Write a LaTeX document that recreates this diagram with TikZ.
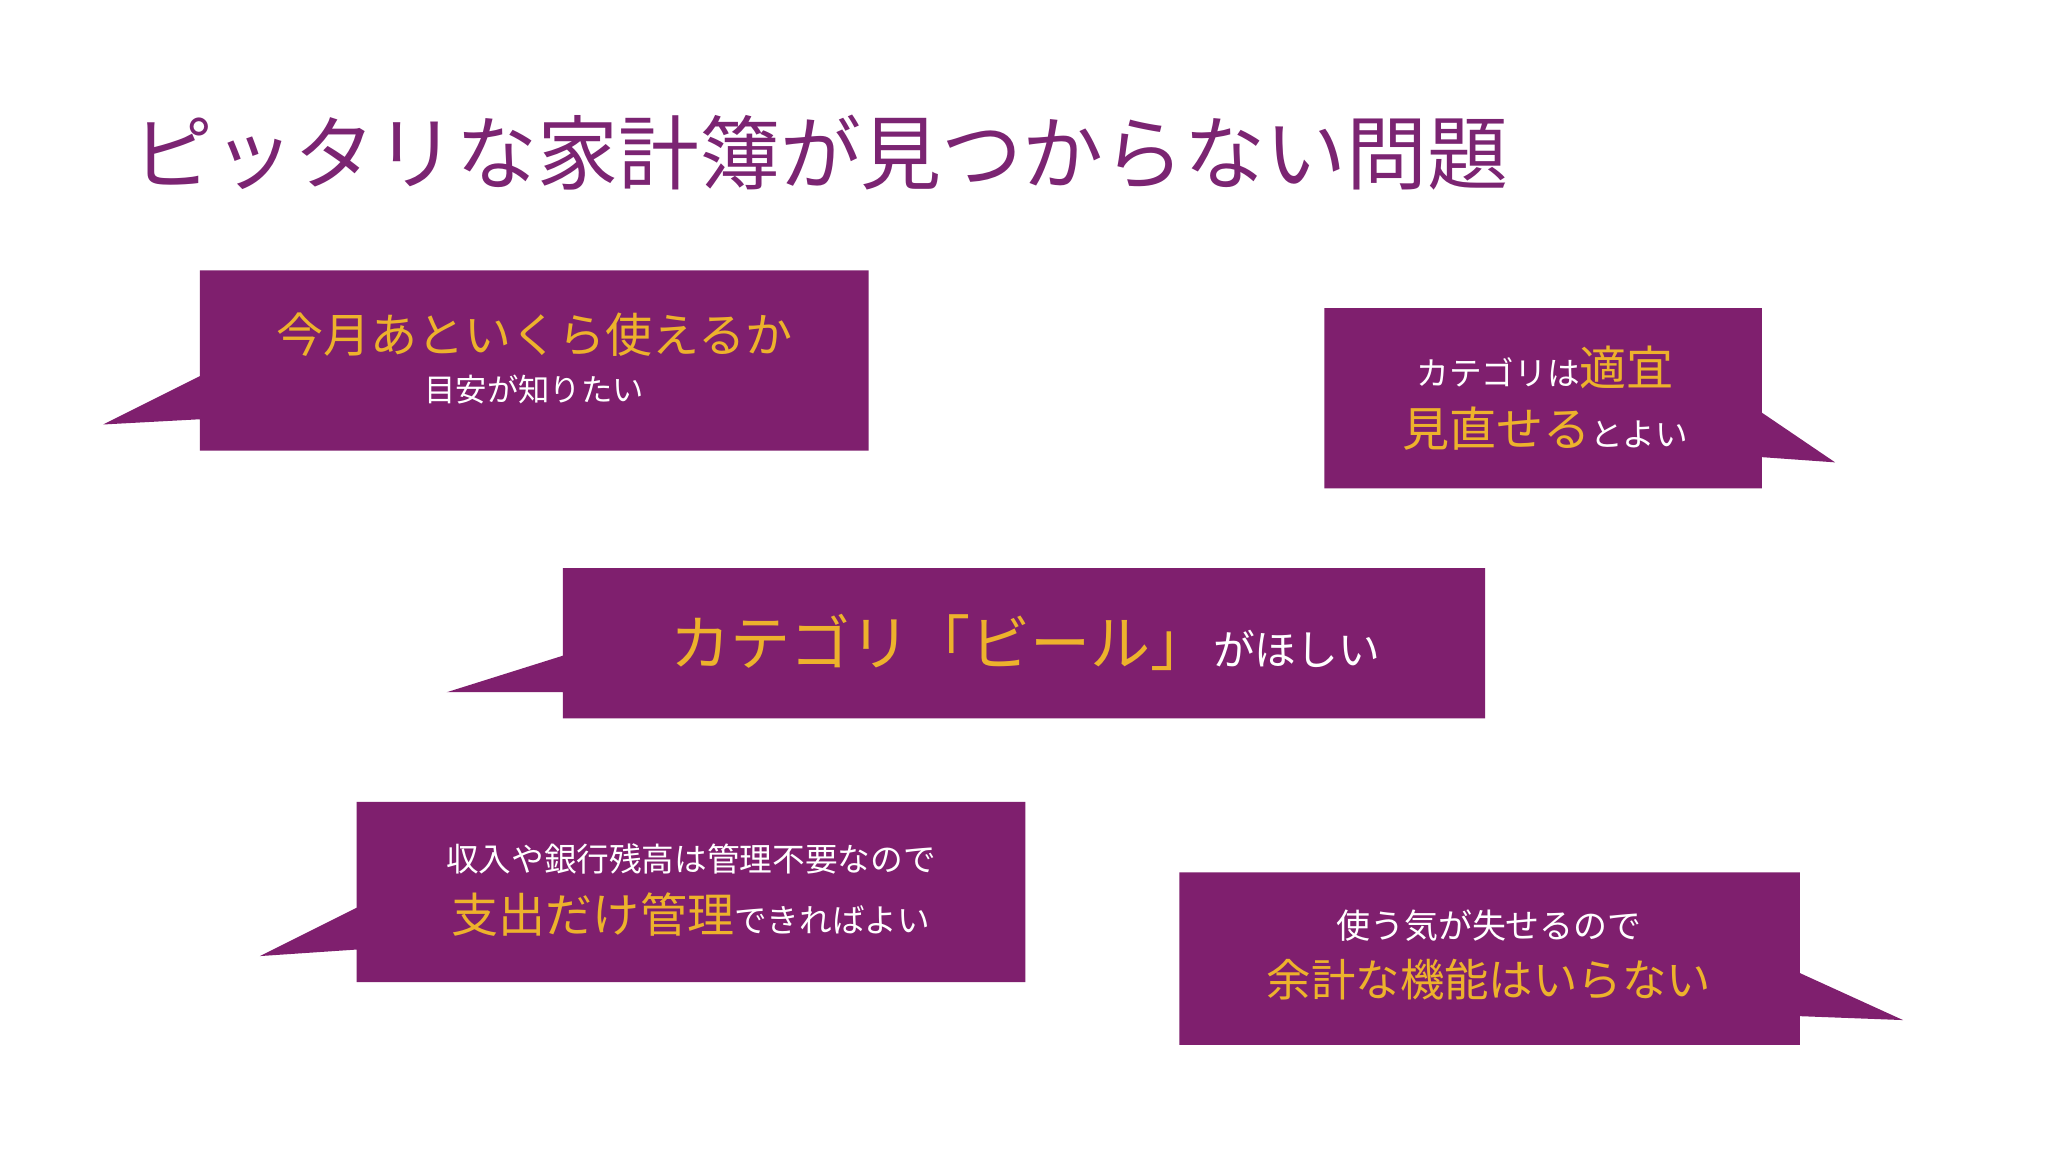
\documentclass[tikz,border=0pt]{standalone}
\usepackage{fontspec}
\setmainfont{Noto Sans CJK JP}
\definecolor{bub}{HTML}{7F1F6E}
\definecolor{gold}{HTML}{EDB22C}
\definecolor{ttl}{HTML}{7B2472}
\tikzset{bubble/.style={fill=bub,draw=none},
 txt/.style={inner sep=0pt,text=white,anchor=center}}
\newcommand{\G}[2]{{\fontsize{#1}{#1}\selectfont\color{gold}#2}}
\newcommand{\W}[2]{{\fontsize{#1}{#1}\selectfont\color{white}#2}}
\begin{document}
\begin{tikzpicture}[x=1pt,y=-1pt]
\useasboundingbox[fill=white] (0,0) rectangle (1568,882);
\node[anchor=west,inner sep=0pt,text=ttl,font=\fontsize{62}{62}\selectfont] (title) at (101,117) {ピッタリな家計簿が見つからない問題};
% bubble 1
\fill[bubble] (153,207) -- (665,207) -- (665,345) -- (153,345) -- (153,321) -- (79,325) -- (153,288) -- cycle;
\node[txt] (b1a) at (409,256) {\G{36}{今月あといくら使えるか}};
\node[txt] (b1b) at (409,298) {\W{24}{目安が知りたい}};
% bubble 2
\fill[bubble] (1014,236) -- (1349,236) -- (1349,316) -- (1405,354) -- (1349,350) -- (1349,374) -- (1014,374) -- cycle;
\node[txt] (b2a) at (1183,281) {\W{25}{カテゴリは}\G{36}{適宜}};
\node[txt] (b2b) at (1183,328) {\G{36}{見直せる}\W{25}{とよい}};
% bubble 3
\fill[bubble] (431,435) -- (1137,435) -- (1137,550) -- (431,550) -- (431,530) -- (342,530) -- (431,502) -- cycle;
\node[txt] (b3) at (785,492) {\G{46}{カテゴリ「ビール」}\,\W{32}{がほしい}};
% bubble 4
\fill[bubble] (273,614) -- (785,614) -- (785,752) -- (273,752) -- (273,727) -- (199,732) -- (273,695) -- cycle;
\node[txt] (b4a) at (529,658) {\W{25}{収入や銀行残高は管理不要なので}};
\node[txt] (b4b) at (529,700) {\G{36}{支出だけ管理}\W{25}{できればよい}};
% bubble 5
\fill[bubble] (903,668) -- (1378,668) -- (1378,745) -- (1457,781) -- (1378,778) -- (1378,800) -- (903,800) -- cycle;
\node[txt] (b5a) at (1140,709) {\W{26}{使う気が失せるので}};
\node[txt] (b5b) at (1140,750) {\G{34}{余計な機能はいらない}};
\end{tikzpicture}
\end{document}
